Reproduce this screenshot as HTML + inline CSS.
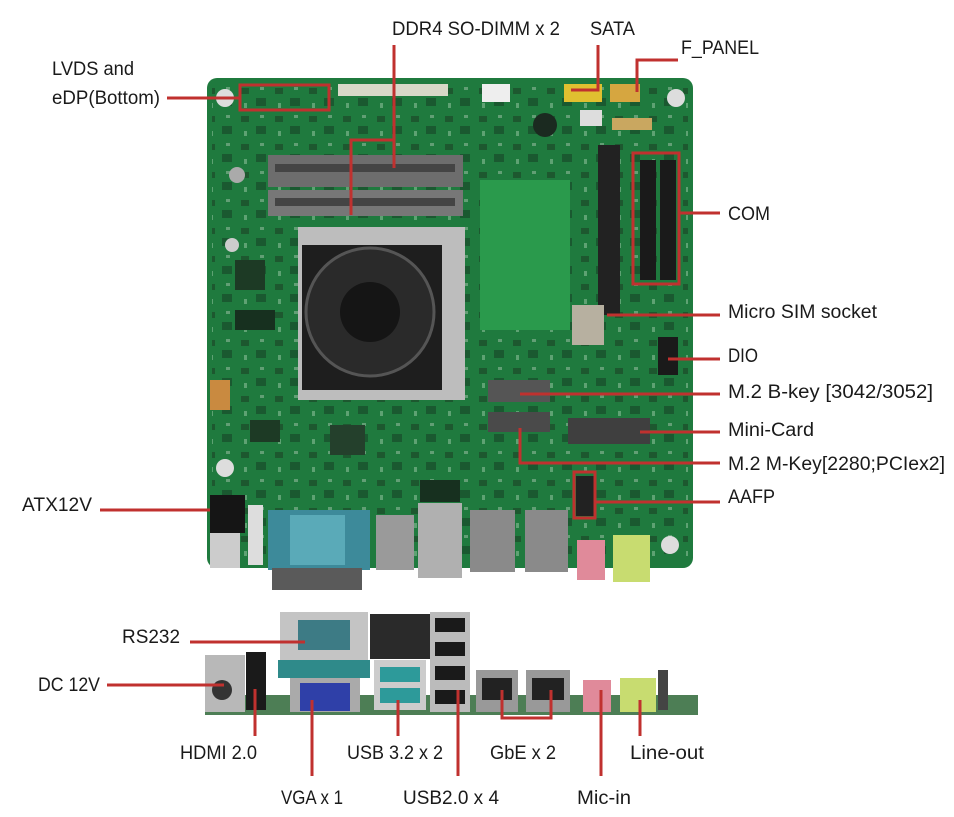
<!DOCTYPE html>
<html><head><meta charset="utf-8"><style>
html,body{margin:0;padding:0;background:#fff;width:954px;height:817px;overflow:hidden}
svg{display:block}
text{font-family:"Liberation Sans",sans-serif;font-size:19px;fill:#1a1a1a}
</style></head><body>
<svg width="954" height="817" viewBox="0 0 954 817" xmlns="http://www.w3.org/2000/svg">
<defs>
<pattern id="comp" width="34" height="28" patternUnits="userSpaceOnUse">
<rect x="3" y="4" width="8" height="6" fill="#1c4a2a" opacity="0.7"/>
<rect x="18" y="14" width="10" height="8" fill="#184226" opacity="0.6"/>
<rect x="22" y="3" width="4" height="3" fill="#8fb79a" opacity="0.6"/>
<rect x="6" y="19" width="3" height="5" fill="#9ec9a8" opacity="0.5"/>
</pattern>
</defs>
<!-- top board -->
<rect x="207" y="78" width="486" height="490" rx="10" fill="#1f7a3e"/>
<rect x="212" y="84" width="476" height="478" fill="url(#comp)"/>
<rect x="480" y="180" width="90" height="150" fill="#2a9a4c"/>
<circle cx="225" cy="98" r="9" fill="#ddd"/><circle cx="676" cy="98" r="9" fill="#ddd"/>
<circle cx="225" cy="468" r="9" fill="#ddd"/><circle cx="670" cy="545" r="9" fill="#ddd"/>
<circle cx="237" cy="175" r="8" fill="#aaa"/><circle cx="232" cy="245" r="7" fill="#ccc"/>
<rect x="235" y="260" width="30" height="30" fill="#1d3a25"/>
<rect x="235" y="310" width="40" height="20" fill="#17301f"/>
<rect x="250" y="420" width="30" height="22" fill="#1d3a25"/>
<rect x="330" y="425" width="35" height="30" fill="#24402c"/>
<rect x="420" y="480" width="40" height="22" fill="#17301f"/>
<!-- connectors top -->
<rect x="338" y="84" width="110" height="12" fill="#d8d8c8"/>
<rect x="482" y="84" width="28" height="18" fill="#eee"/>
<rect x="564" y="84" width="38" height="18" fill="#e0c030"/>
<rect x="610" y="84" width="30" height="18" fill="#d6a640"/>
<rect x="580" y="110" width="22" height="16" fill="#ddd"/>
<rect x="612" y="118" width="40" height="12" fill="#c9a760"/>
<circle cx="545" cy="125" r="12" fill="#1b2a20"/>
<!-- DIMM -->
<rect x="268" y="155" width="195" height="32" fill="#6d6d6d"/>
<rect x="268" y="190" width="195" height="26" fill="#777"/>
<rect x="275" y="164" width="180" height="8" fill="#444"/>
<rect x="275" y="198" width="180" height="8" fill="#444"/>
<!-- heatsink & fan -->
<rect x="298" y="227" width="167" height="173" fill="#bdbdbd"/>
<rect x="302" y="245" width="140" height="145" fill="#1e1e1e"/>
<circle cx="370" cy="312" r="64" fill="#2a2a2a" stroke="#555" stroke-width="3"/>
<circle cx="370" cy="312" r="30" fill="#151515"/>
<!-- right headers -->
<rect x="598" y="145" width="22" height="170" fill="#222"/>
<rect x="640" y="160" width="16" height="120" fill="#1a1a1a"/>
<rect x="660" y="160" width="16" height="120" fill="#1a1a1a"/>
<rect x="572" y="305" width="32" height="40" fill="#b7b0a0"/>
<rect x="658" y="337" width="20" height="38" fill="#1a1a1a"/>
<rect x="488" y="380" width="62" height="22" fill="#555"/>
<rect x="488" y="412" width="62" height="20" fill="#4a4a4a"/>
<rect x="568" y="418" width="82" height="26" fill="#3f3f3f"/>
<rect x="576" y="476" width="18" height="40" fill="#222"/>
<rect x="210" y="380" width="20" height="30" fill="#c98a40"/>
<!-- bottom ports of top board -->
<rect x="210" y="495" width="35" height="38" fill="#151515"/>
<rect x="210" y="533" width="30" height="35" fill="#ccc"/>
<rect x="248" y="505" width="15" height="60" fill="#ddd"/>
<rect x="268" y="510" width="102" height="60" fill="#3d8a9a"/>
<rect x="290" y="515" width="55" height="50" fill="#5aaab8"/>
<rect x="272" y="568" width="90" height="22" fill="#5a5a5a"/>
<rect x="376" y="515" width="38" height="55" fill="#9a9a9a"/>
<rect x="418" y="503" width="44" height="75" fill="#b0b0b0"/>
<rect x="470" y="510" width="45" height="62" fill="#8a8a8a"/>
<rect x="525" y="510" width="43" height="62" fill="#8a8a8a"/>
<rect x="577" y="540" width="28" height="40" fill="#e08a9a"/>
<rect x="613" y="535" width="37" height="47" fill="#c8dc70"/>
<!-- bottom I/O view -->
<rect x="205" y="695" width="493" height="20" fill="#4d7e55"/>
<rect x="205" y="655" width="40" height="57" fill="#b8b8b8"/>
<circle cx="222" cy="690" r="10" fill="#333"/>
<rect x="246" y="652" width="20" height="58" fill="#1a1a1a"/>
<rect x="280" y="612" width="88" height="48" fill="#c4c4c4"/>
<rect x="298" y="620" width="52" height="30" fill="#3d7b85"/>
<rect x="278" y="660" width="92" height="18" fill="#2f8a8a"/>
<rect x="290" y="678" width="70" height="34" fill="#aaa"/>
<rect x="300" y="683" width="50" height="28" fill="#2f40a8"/>
<rect x="370" y="614" width="60" height="45" fill="#2a2a2a"/>
<rect x="374" y="660" width="52" height="50" fill="#ccc"/>
<rect x="380" y="667" width="40" height="15" fill="#2d9a9a"/>
<rect x="380" y="688" width="40" height="15" fill="#2d9a9a"/>
<rect x="430" y="612" width="40" height="100" fill="#bbb"/>
<rect x="435" y="618" width="30" height="14" fill="#1a1a1a"/>
<rect x="435" y="642" width="30" height="14" fill="#1a1a1a"/>
<rect x="435" y="666" width="30" height="14" fill="#1a1a1a"/>
<rect x="435" y="690" width="30" height="14" fill="#1a1a1a"/>
<rect x="476" y="670" width="42" height="42" fill="#999"/>
<rect x="482" y="678" width="30" height="22" fill="#222"/>
<rect x="526" y="670" width="44" height="42" fill="#999"/>
<rect x="532" y="678" width="32" height="22" fill="#222"/>
<rect x="583" y="680" width="28" height="32" fill="#e08a9a"/>
<rect x="620" y="678" width="36" height="34" fill="#c8dc70"/>
<rect x="658" y="670" width="10" height="40" fill="#444"/>
<!-- red callouts -->
<g stroke="#c0312f" stroke-width="3" fill="none">
<rect x="240" y="85" width="89" height="25"/>
<path d="M167 98H240"/>
<path d="M394 45V168M394 140H351V215"/>
<path d="M598 45V90H571"/>
<path d="M678 60H637V92"/>
<rect x="633" y="153" width="46" height="131"/>
<path d="M679 213H720"/>
<path d="M607 315H720"/>
<path d="M668 359H720"/>
<path d="M520 394H720"/>
<path d="M640 432H720"/>
<path d="M520 428V463H720"/>
<rect x="574" y="472" width="21" height="46"/>
<path d="M595 502H720"/>
<path d="M100 510H210"/>
<path d="M190 642H305"/>
<path d="M107 685H224"/>
<path d="M255 689V736"/>
<path d="M312 700V776"/>
<path d="M398 700V736"/>
<path d="M458 690V776"/>
<path d="M502 690V718H551V690"/>
<path d="M601 690V776"/>
<path d="M640 700V736"/>
</g>
<!-- labels -->
<text x="392" y="35" textLength="168" lengthAdjust="spacingAndGlyphs">DDR4 SO-DIMM x 2</text>
<text x="590" y="35" textLength="45" lengthAdjust="spacingAndGlyphs">SATA</text>
<text x="681" y="54" textLength="78" lengthAdjust="spacingAndGlyphs">F_PANEL</text>
<text x="52" y="75" textLength="82" lengthAdjust="spacingAndGlyphs">LVDS and</text>
<text x="52" y="104" textLength="108" lengthAdjust="spacingAndGlyphs">eDP(Bottom)</text>
<text x="728" y="220" textLength="42" lengthAdjust="spacingAndGlyphs">COM</text>
<text x="728" y="318" textLength="149" lengthAdjust="spacingAndGlyphs">Micro SIM socket</text>
<text x="728" y="362" textLength="30" lengthAdjust="spacingAndGlyphs">DIO</text>
<text x="728" y="398" textLength="205" lengthAdjust="spacingAndGlyphs">M.2 B-key [3042/3052]</text>
<text x="728" y="436" textLength="86" lengthAdjust="spacingAndGlyphs">Mini-Card</text>
<text x="728" y="470" textLength="217" lengthAdjust="spacingAndGlyphs">M.2 M-Key[2280;PCIex2]</text>
<text x="728" y="503" textLength="47" lengthAdjust="spacingAndGlyphs">AAFP</text>
<text x="22" y="511" textLength="70" lengthAdjust="spacingAndGlyphs">ATX12V</text>
<text x="122" y="643" textLength="58" lengthAdjust="spacingAndGlyphs">RS232</text>
<text x="38" y="691" textLength="62" lengthAdjust="spacingAndGlyphs">DC 12V</text>
<text x="180" y="759" textLength="77" lengthAdjust="spacingAndGlyphs">HDMI 2.0</text>
<text x="281" y="804" textLength="62" lengthAdjust="spacingAndGlyphs">VGA x 1</text>
<text x="347" y="759" textLength="96" lengthAdjust="spacingAndGlyphs">USB 3.2 x 2</text>
<text x="403" y="804" textLength="96" lengthAdjust="spacingAndGlyphs">USB2.0 x 4</text>
<text x="490" y="759" textLength="66" lengthAdjust="spacingAndGlyphs">GbE x 2</text>
<text x="577" y="804" textLength="54" lengthAdjust="spacingAndGlyphs">Mic-in</text>
<text x="630" y="759" textLength="74" lengthAdjust="spacingAndGlyphs">Line-out</text>
</svg>
</body></html>
